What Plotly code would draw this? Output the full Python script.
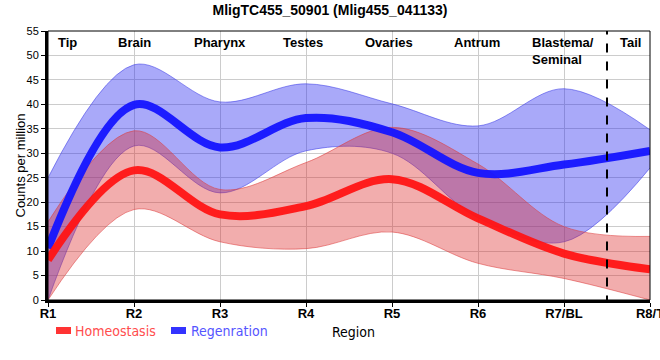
import plotly.graph_objects as go

regions = ["R1", "R2", "R3", "R4", "R5", "R6", "R7/BL", "R8/T"]
x_pos = [1, 2, 3, 4, 5, 6, 7, 8]

homeo_mean = [8.2, 26.5, 17.5, 19.2, 24.7, 16.7, 9.5, 6.3]
homeo_upper = [16.0, 34.6, 22.6, 28.1, 35.3, 27.8, 15.0, 13.0]
homeo_lower = [0.0, 18.5, 11.9, 10.5, 13.9, 7.5, 4.4, 0.0]

regen_mean = [10.6, 39.9, 31.2, 37.2, 34.3, 26.0, 27.7, 30.5]
regen_upper = [25.0, 48.1, 40.5, 44.2, 40.1, 35.6, 43.2, 34.8]
regen_lower = [0.0, 31.5, 21.9, 30.5, 30.0, 16.8, 11.9, 27.0]

region_names = ["Tip", "Brain", "Pharynx", "Testes", "Ovaries", "Antrum", "Blastema/<br>Seminal", "Tail"]
region_label_x = [1.23, 2.0, 3.0, 3.97, 4.97, 5.99, 6.61, 7.77]

NARROW = "DejaVu Sans Condensed, Liberation Sans Narrow, Arial Narrow, Liberation Sans, Arial"
SANS = "Liberation Sans, Arial, sans-serif"

fig = go.Figure()

def band(upper, lower, fill, edge):
    fig.add_trace(go.Scatter(x=x_pos, y=upper, mode="lines",
                             line=dict(shape="spline", smoothing=1.0, width=1, color=edge),
                             hoverinfo="skip", showlegend=False))
    fig.add_trace(go.Scatter(x=x_pos, y=lower, mode="lines", fill="tonexty",
                             fillcolor=fill,
                             line=dict(shape="spline", smoothing=1.0, width=1, color=edge),
                             hoverinfo="skip", showlegend=False))

band(regen_upper, regen_lower, "rgba(40,40,240,0.40)", "rgba(60,60,230,0.55)")
band(homeo_upper, homeo_lower, "rgba(220,40,40,0.38)", "rgba(220,60,60,0.55)")

fig.add_trace(go.Scatter(x=x_pos, y=regen_mean, mode="lines", name="Regenration",
                         line=dict(shape="spline", smoothing=1.0, width=8, color="rgba(20,20,255,0.95)"),
                         showlegend=False))
fig.add_trace(go.Scatter(x=x_pos, y=homeo_mean, mode="lines", name="Homeostasis",
                         line=dict(shape="spline", smoothing=1.0, width=8, color="rgba(255,20,20,0.95)"),
                         showlegend=False))

W, L, T, PH = 602, 48, 31, 269

def px_x(p):
    return (p - L) / W

def px_y(p):
    return 1 - (p - T) / PH

shapes = [
    dict(type="line", xref="x", yref="y", x0=7.5, x1=7.5, y0=-0.9, y1=55,
         line=dict(color="black", width=2, dash="dash")),
    dict(type="rect", xref="paper", yref="paper", x0=0, x1=1, y0=0, y1=1,
         line=dict(color="black", width=1)),
    dict(type="rect", xref="paper", yref="paper",
         x0=px_x(56), x1=px_x(71), y0=px_y(334), y1=px_y(327),
         fillcolor="#ff3333", line=dict(width=0)),
    dict(type="rect", xref="paper", yref="paper",
         x0=px_x(171), x1=px_x(186), y0=px_y(334), y1=px_y(327),
         fillcolor="#3333ff", line=dict(width=0)),
]

annotations = []
for name, xl in zip(region_names, region_label_x):
    is_bl = "Blastema" in name
    annotations.append(dict(
        x=xl, y=1, xref="x", yref="paper", text="<b>%s</b>" % name, showarrow=False,
        xanchor="left" if is_bl else "center", yanchor="top", yshift=-2, align="left",
        font=dict(family=SANS, size=13, color="black")))

annotations += [
    dict(x=px_x(73), y=px_y(330.5), xref="paper", yref="paper", text="Homeostasis",
         showarrow=False, xanchor="left", yanchor="middle",
         font=dict(family=NARROW, size=14, color="#ff4d4d")),
    dict(x=px_x(189), y=px_y(330.5), xref="paper", yref="paper", text="Regenration",
         showarrow=False, xanchor="left", yanchor="middle",
         font=dict(family=NARROW, size=14, color="#5555ff")),
    dict(x=px_x(353), y=px_y(332), xref="paper", yref="paper", text="Region",
         showarrow=False, xanchor="center", yanchor="middle",
         font=dict(family=NARROW, size=14, color="black")),
    dict(x=px_x(20), y=0.5, xref="paper", yref="paper", text="Counts per million",
         showarrow=False, xanchor="center", yanchor="middle", textangle=-90,
         font=dict(family=SANS, size=13, color="black")),
]

fig.update_layout(
    width=660, height=360,
    margin=dict(l=L, r=660 - L - W, t=T, b=360 - T - PH, autoexpand=False),
    paper_bgcolor="white", plot_bgcolor="white",
    title=dict(text="<b>MligTC455_50901 (Mlig455_041133)</b>", x=0.5, xanchor="center",
               y=1 - 10 / 360, yanchor="middle",
               font=dict(family=SANS, size=14, color="black")),
    shapes=shapes, annotations=annotations,
    showlegend=False,
)

fig.update_xaxes(range=[1, 8], tickvals=x_pos, ticktext=["<b>%s</b>" % r for r in regions],
                 showgrid=True, gridcolor="#cccccc", gridwidth=1, zeroline=False,
                 showline=True, linecolor="black", linewidth=3, automargin=False,
                 ticks="outside", ticklen=4, tickcolor="black", tickwidth=1,
                 ticklabelstandoff=-5, ticklabeloverflow="allow",
                 tickfont=dict(family=SANS, size=13, color="black"))
fig.update_yaxes(range=[0, 55], dtick=5, tick0=0,
                 showgrid=True, gridcolor="#cccccc", gridwidth=1, zeroline=False,
                 showline=True, linecolor="black", linewidth=3, automargin=False,
                 ticks="outside", ticklen=4, tickcolor="black", tickwidth=1,
                 tickfont=dict(family=SANS, size=11, color="black"))

fig.write_html("out.html", config={"displayModeBar": False},
               post_script="document.body.style.margin='0';")
